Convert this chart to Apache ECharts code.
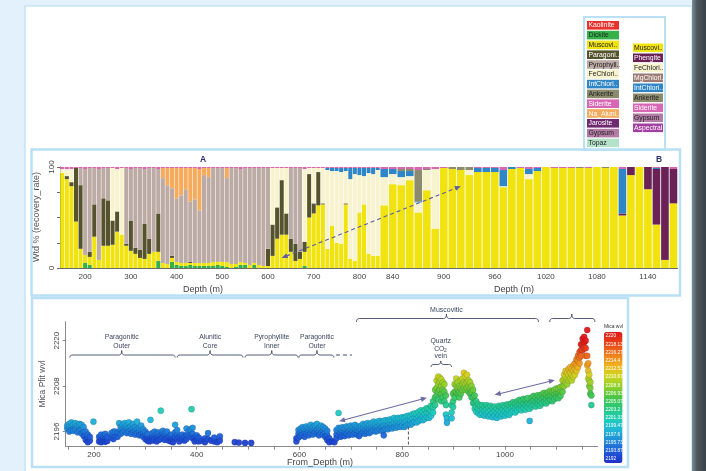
<!DOCTYPE html>
<html>
<head>
<meta charset="utf-8">
<title>Mineralogy and white mica wavelength vs depth</title>
<script src="https://cdn.jsdelivr.net/npm/echarts@6.0.0/dist/echarts.min.js"></script>
<style>
  html, body { margin: 0; padding: 0; background: #e2f1fb; }
  #chart { width: 706px; height: 471px; }
</style>
</head>
<body>
<div id="chart"></div>
<script>
// ---------------- Mineral abundance, 10 m composites (Wtd %) ----------------
const depthsShallow = [150,160,170,180,190,200,210,220,230,240,
  250,260,270,280,290,300,310,320,330,340,
  350,360,370,380,390,400,410,420,430,440,
  450,460,470,480,490,500,510,520,530,540,
  550,560,570,580,590,600,610,620,630,640,
  650,660,670,680,690,700,710,720,730,740,
  750,760,770,780,790,800,810,820,830,840];

const dickiteShallow = [0,0,0,0,0,5,3,0,0,0, 0,0,0,0,0,0,0,0,0,0, 0,7,0,0,6,3,2,2,3,2,
  2,2,2,2,3,2,1,0,1,3, 3,0,3,0,0,0,0,0,0,0, 0,0,0,2,0,0,0,0,0,0, 0,0,0,0,0,0,0,0,0,0];
const muscoviteShallow = [94,88,81,46,19,8,8,31,8,22, 22,23,36,33,22,17,14,10,9,14, 16,9,5,4,4,3,3,3,2,3,
  3,3,3,4,3,4,5,4,3,3, 2,3,2,3,2,2,12,29,33,33, 16,7,9,14,50,54,62,63,19,42, 25,24,63,9,7,55,63,14,12,12];
const paragoniteShallow = [0,3,4,53,63,0,5,32,0,47, 45,24,20,0,2,30,6,8,35,15, 0,38,0,0,2,0,0,0,1,0,
  0,0,0,0,0,0,0,0,0,0, 0,0,0,0,0,17,31,31,54,21, 13,17,7,10,43,10,33,1,0,0, 0,0,1,0,0,0,0,0,0,0];
const pyrophylliteShallow = [0,0,0,0,17,85,83,36,90,30, 32,0,0,0,75,51,79,81,54,70, 83,44,84,78,67,63,67,73,60,63,
  52,87,85,93,93,93,83,95,95,92, 94,96,94,96,97,80,0,0,0,0, 70,75,83,0,0,0,0,0,0,0, 0,0,0,0,0,0,0,0,0,0];
const feChloriteShallow = [4,7,13,0,0,0,0,0,0,0, 0,52,42,66,0,0,0,0,0,0, 0,0,0,0,0,0,0,0,0,0,
  0,0,0,0,0,0,0,0,0,0, 0,0,0,0,0,0,56,39,12,45, 0,0,0,72,6,35,4,35,78,54, 71,71,32,79,86,37,28,80,81,85];
const intChloriteShallow = [0,0,0,0,0,0,0,0,0,0, 0,0,0,0,0,0,0,0,0,0, 0,0,0,0,0,0,0,0,0,0,
  0,0,0,0,0,0,0,0,0,0, 0,0,0,0,0,0,0,0,0,0, 0,0,0,0,0,0,0,0,2,3, 3,4,3,11,6,7,8,5,6,2];
const naAluniteShallow = [0,0,0,0,0,0,0,0,0,0, 0,0,0,0,0,0,0,0,0,0, 0,0,10,17,20,30,27,21,33,31,
  41,7,9,0,0,0,10,0,0,0, 0,0,0,0,0,0,0,0,0,0, 0,0,0,0,0,0,0,0,0,0, 0,0,0,0,0,0,0,0,0,0];
const sideriteShallow = [2,2,2,1,1,2,1,1,2,1, 1,1,2,1,1,2,1,1,2,1, 1,2,1,1,1,1,1,1,1,1,
  2,1,1,1,1,1,1,1,1,2, 1,1,1,1,1,1,1,1,1,1, 1,1,1,2,1,1,1,1,1,1, 1,1,1,1,1,1,1,1,1,1];

const depthsDeep = [830,840,850,860,870,880,890,900,910,920,
  930,940,950,960,970,980,990,1000,1010,1020,
  1030,1040,1050,1060,1070,1080,1090,1100,1110,1120,
  1130,1140,1150,1160,1170];
const muscoviteDeep = [62,83,82,87,55,77,39,99,98,97, 92,95,95,95,80,98,99,88,96,100, 99,99,99,99,99,100,99,100,52,92, 100,78,43,8,64];
const phengiteDeep = [0,0,0,0,0,0,0,0,0,0, 0,0,0,0,0,0,0,0,0,0, 0,0,0,0,0,0,0,0,2,8, 0,22,55,92,34];
const feChloriteDeep = [28,10,8,4,10,20,59,0,0,0, 5,0,0,0,1,0,0,5,0,0, 0,0,0,0,0,0,0,0,0,0, 0,0,0,0,0];
const intChloriteDeep = [8,5,6,5,1,0,0,0,0,0, 0,4,4,4,16,2,0,5,3,0, 0,0,0,0,0,0,0,0,44,0, 0,0,1,0,0];
const ankeriteDeep = [0,0,2,2,31,1,0,0,2,3, 3,0,0,0,0,0,0,0,0,0, 0,0,0,1,0,0,1,0,0,0, 0,0,0,0,0];
const sideriteDeep = [2,2,2,2,3,2,2,1,0,0, 0,1,1,1,3,0,1,2,1,0, 1,1,1,0,1,0,0,0,2,0, 0,0,1,0,2];

// ---------------- White mica Pfit wavelength (nm): [depth, readings...] ----------------
const micaWvlRows = [
  [148,2196.8,2197.6],[152,2197.2,2196.0,2198.0],[156,2197.6,2196.4,2198.4],[160,2197.0,2196.2,2197.9],
  [164,2197.4,2196.6,2198.2],[168,2196.8,2195.8,2197.6],[172,2197.2,2196.3,2198.0],[176,2196.6,2195.5,2197.8],
  [180,2196.0,2194.8,2197.2],[184,2195.0,2193.8,2196.0],[188,2194.2,2193.2,2195.2],[192,2193.6,2194.6],
  [199,2198.6],[210,2193.4,2194.6],[214,2194.0,2195.2,2193.2],[218,2193.6,2194.8],[222,2194.2,2195.4,2193.3],
  [226,2193.5,2194.6],[234,2194.4,2195.6],[238,2194.0,2195.2,2196.0],[242,2194.8,2196.0],[246,2195.6,2194.6],
  [249,2198.2],[252,2196.4,2195.4,2197.2],[256,2196.8,2195.8,2197.8],[260,2197.2,2196.2,2198.2],
  [264,2196.6,2195.6,2197.6],[268,2197.0,2196.0,2198.4],[272,2196.4,2195.4,2197.4],[276,2196.8,2195.8,2198.0],
  [280,2196.2,2195.2,2197.2],[284,2196.6,2195.6,2198.6],[288,2196.0,2195.0,2197.0],[292,2196.4,2195.2,2197.6],
  [296,2195.6,2194.6,2196.6],[300,2195.0,2194.0,2196.0],[304,2194.4,2193.6,2195.4],[308,2194.0,2193.4],
  [310,2199.1],[314,2194.6,2193.6,2195.6],[318,2195.0,2194.0,2196.0],[322,2194.4,2193.4,2195.4],
  [326,2194.8,2193.8,2195.8],[330,2201.5,2195.0,2194.0],[334,2195.4,2194.4,2196.2],[338,2194.8,2193.8,2195.6],
  [342,2195.2,2194.2,2196.0],[346,2194.6,2193.6],[350,2194.2,2193.4,2195.2],[354,2194.0,2193.2],
  [358,2197.8,2195.8,2194.6],[362,2195.2,2194.2,2196.4],[366,2194.4,2193.4],[372,2194.0,2195.2],
  [376,2193.6,2194.6],[380,2195.0,2194.0,2196.8],[384,2196.0,2195.0],[388,2196.6,2194.6],[390,2201.9],
  [392,2195.4,2194.2,2197.0],[396,2194.4,2193.4],[400,2193.8,2195.0],[404,2193.4,2194.4],[410,2193.6],
  [416,2194.2,2193.2],[422,2195.6,2194.0],[428,2193.6],[434,2193.4,2194.4],[440,2193.2],[445,2194.7,2193.6],
  [474,2193.2],[482,2193.1],[494,2193.0],[506,2193.0],
  [594,2194.2,2193.4],[598,2195.4,2194.4,2196.4],[602,2195.8,2194.8,2196.8],[606,2196.2,2195.2,2197.2],
  [610,2195.8,2194.6,2196.8],[614,2196.4,2195.4,2197.4],[618,2196.0,2195.0,2197.0],[622,2196.6,2195.6,2197.8],
  [626,2196.2,2195.2,2197.2],[630,2196.8,2195.8,2197.6],[634,2196.4,2195.4,2198.0],[638,2196.0,2195.0,2197.0],
  [642,2196.6,2195.6,2197.6],[646,2196.2,2195.2,2197.2],[650,2195.8,2194.6,2196.8],[654,2195.0,2193.8,2196.2],
  [658,2194.2,2193.2],[664,2193.4],[668,2193.2],
  [672,2195.2,2194.2,2196.4],[676,2196.0,2195.0,2197.0,2200.9],[680,2195.6,2194.6,2196.8],[684,2196.2,2195.0,2197.2],
  [688,2195.8,2194.8,2196.8],[692,2196.4,2195.4,2197.4],[696,2196.0,2195.0,2197.2],[700,2196.6,2195.4,2197.6],
  [704,2196.2,2195.2,2197.2],[708,2196.8,2195.6,2197.8],[712,2196.4,2195.2,2197.4],[716,2196.0,2194.8,2197.0],
  [720,2196.6,2195.4,2197.6],[724,2197.0,2195.8,2198.0],[728,2196.4,2195.4,2197.6],[732,2197.0,2196.0,2198.2],
  [736,2196.6,2195.6,2197.8],[740,2197.2,2196.0,2198.2],[744,2197.6,2196.4,2198.6],[748,2197.0,2196.0,2198.0],
  [752,2197.4,2196.2,2198.6],[756,2197.8,2196.6,2198.8],[760,2197.2,2196.2,2198.4],[764,2197.6,2196.4,2198.8,2195.0],
  [768,2198.0,2196.8,2199.0],[772,2197.6,2196.6,2198.8],[776,2198.2,2197.0,2199.2],[780,2197.8,2196.8,2199.0],
  [784,2198.4,2197.2,2199.6],[788,2198.0,2197.0,2199.2],[792,2198.6,2197.4,2199.6],[796,2198.2,2197.2,2199.4],
  [800,2198.8,2197.6,2199.8],[804,2198.4,2197.2,2199.6],[808,2198.8,2197.6,2200.0],[812,2199.2,2198.0,2200.2],
  [816,2198.8,2197.8,2200.0],[820,2199.4,2198.2,2200.6],[824,2199.8,2198.6,2200.8],[828,2199.4,2198.4,2200.6],
  [832,2200.0,2198.8,2201.2],[836,2200.4,2199.2,2201.6],[840,2200.0,2199.0,2201.2],[844,2200.6,2199.4,2201.8],
  [848,2201.0,2199.8,2202.2],[852,2200.8,2199.6,2202.0],[856,2201.4,2200.2,2202.8],[860,2202.4,2201.0,2204.0],
  [864,2205.0,2203.0,2207.0],[867,2207.5,2205.5,2209.5],[870,2208.5,2206.5,2210.5,2204.5],[873,2209.0,2207.0,2210.2],
  [876,2208.0,2206.0,2209.8,2204.0],[879,2207.0,2205.0,2209.0],[882,2206.5,2204.0,2208.5],[885,2203.0,2200.5,2205.5],
  [887,2199.5,2198.3],
  [896,2201.0,2199.5,2203.0],[899,2204.0,2202.5,2206.0],[902,2206.5,2205.0,2208.5],[905,2208.0,2206.5,2210.0],
  [908,2207.5,2206.0,2209.0],[911,2206.5,2205.0,2208.0],[914,2207.5,2206.0,2209.5],[917,2208.5,2207.0,2210.0],
  [920,2209.0,2207.5,2211.5],[923,2208.5,2207.0,2210.5],[926,2209.0,2207.5,2211.0],[929,2208.0,2206.5,2209.5],
  [932,2207.5,2206.0,2209.0],[935,2206.5,2205.0,2208.0],[938,2205.0,2203.5,2207.0],[941,2203.5,2202.0,2205.5],
  [944,2202.5,2201.2,2204.0],
  [948,2202.0,2200.8,2203.2],[952,2201.6,2200.4,2202.8],[956,2202.0,2200.8,2203.0],[960,2201.4,2200.2,2202.6],
  [964,2201.8,2200.6,2203.0],[968,2201.2,2200.0,2202.4],[972,2201.6,2200.4,2202.8],[976,2201.0,2199.8,2202.2],
  [980,2201.4,2200.2,2202.6],[984,2201.0,2199.6,2202.0],[988,2201.6,2200.4,2202.8],[992,2201.2,2200.0,2202.4],
  [996,2201.8,2200.6,2203.0],[1000,2201.4,2200.2,2202.6],[1004,2202.0,2200.8,2203.2],[1008,2201.6,2200.4,2203.0],
  [1012,2202.2,2201.0,2203.4],[1016,2202.6,2201.4,2203.8],[1020,2202.2,2201.0,2203.4],[1024,2202.8,2201.6,2204.0],
  [1028,2203.2,2202.0,2204.4],[1032,2202.8,2201.6,2204.0],[1036,2203.4,2202.2,2204.6],[1040,2203.0,2201.8,2204.4],
  [1044,2203.6,2202.4,2204.8],[1048,2203.2,2202.0,2198.8],[1052,2203.8,2202.6,2205.0],[1056,2204.2,2203.0,2205.4],
  [1060,2203.8,2202.6,2205.0],[1064,2204.4,2203.2,2205.6],[1068,2204.0,2202.8,2205.2],[1072,2204.6,2203.4,2205.8],
  [1076,2205.0,2203.8,2206.2],[1080,2204.6,2203.4,2205.8],[1084,2205.2,2204.0,2206.4],[1088,2205.6,2204.4,2206.8],
  [1092,2205.2,2204.0,2206.4],[1096,2205.8,2204.6,2207.0],[1100,2206.2,2205.0,2207.4],[1104,2206.0,2204.8,2207.2],
  [1108,2206.6,2205.4,2207.8],
  [1112,2208.0,2206.5,2209.5],[1115,2209.5,2208.0,2211.0],[1118,2210.5,2209.0,2212.0],[1121,2210.0,2208.5,2211.5],
  [1124,2211.0,2209.5,2212.5],[1127,2211.5,2210.0,2213.0],[1130,2211.0,2209.5,2212.5],[1133,2212.0,2210.5,2213.5],
  [1136,2212.5,2211.0,2214.0],[1139,2213.5,2212.0,2215.0],[1142,2214.5,2213.0,2216.0],[1145,2215.5,2214.0,2217.0],
  [1148,2217.5,2216.0,2219.0],[1151,2219.0,2217.5,2220.5],[1154,2219.5,2218.0,2221.0],[1157,2218.0,2216.0,2220.0],
  [1160,2216.0,2213.5,2222.8],[1162,2212.0,2210.0,2214.0],[1164,2209.5,2208.0,2211.0],[1166,2207.5,2206.0,2209.0],
  [1168,2205.5,2203.0]
];

// ---------------- Tick labels ----------------
const shallowDepthLabels = [200,300,400,500,600,700,800];
const deepDepthLabels = [840,900,960,1020,1080,1140];
const pfitDepthLabels = [200,400,600,800,1000];
const pfitWvlLabels = [2196,2208,2220];
const colorbarLabels = ['2220','2218.13','2216.27','2214.4','2212.53','2210.67','2208.8','2206.93',
  '2205.07','2203.2','2201.33','2199.47','2197.6','2195.73','2193.87','2192'];

// ---------------- Styling ----------------
const FONT = '"Liberation Sans", Arial, sans-serif';
const MINERAL_COLORS = {
  Kaolinite: '#e8322b', Dickite: '#35b14a', Muscovite: '#f1e30f', Phengite: '#6a2256',
  Paragonite: '#55532d', Pyrophyllite: '#bcaaa4', FeChlorite: '#f7f3cf', IntChlorite: '#2f86c6',
  Ankerite: '#8d8b6e', Na_Alunite: '#f5ab5c', Siderite: '#d867b3', Jarosite: '#6e2a6e',
  Gypsum: '#b27ca6', Topaz: '#b4e2c8', MgChlorite: '#9b7b72', Aspectral: '#a23ea0'
};

const shallowStack = [
  ['Dickite', dickiteShallow], ['Muscovite', muscoviteShallow], ['Paragonite', paragoniteShallow],
  ['Pyrophyllite', pyrophylliteShallow], ['FeChlorite', feChloriteShallow], ['IntChlorite', intChloriteShallow],
  ['Na_Alunite', naAluniteShallow], ['Siderite', sideriteShallow]
];
const deepStack = [
  ['Muscovite', muscoviteDeep], ['Phengite', phengiteDeep], ['FeChlorite', feChloriteDeep],
  ['IntChlorite', intChloriteDeep], ['Ankerite', ankeriteDeep], ['Siderite', sideriteDeep]
];

function stackSeries(list, grid, width) {
  return list.map(([name, vals]) => ({
    type: 'bar', name, xAxisIndex: grid, yAxisIndex: grid, stack: 'wtd' + grid,
    barWidth: width, silent: true,
    itemStyle: { color: MINERAL_COLORS[name] },
    data: vals
  }));
}

function steps(a, b, s) { const out = []; for (let v = a; v <= b + 1e-9; v += s) out.push(v); return out; }

const scatterPoints = [];
micaWvlRows.forEach(row => { for (let k = 1; k < row.length; k++) scatterPoints.push([row[0], row[k]]); });

const axisLineStyle = { color: '#6a6a6a', width: 1 };
const tickLabel = { fontSize: 8, color: '#444', fontFamily: FONT };
const plain = v => String(v);

const series = [
  ...stackSeries(shallowStack, 0, '88%'),
  ...stackSeries(deepStack, 1, '90%'),
  {
    type: 'scatter', name: 'Mica Pfit wvl', xAxisIndex: 2, yAxisIndex: 2,
    symbolSize: 6.2, silent: true,
    itemStyle: { borderColor: 'rgba(0,0,50,0.22)', borderWidth: 0.6, opacity: 0.95 },
    data: scatterPoints
  }
];
const scatterIndex = series.length - 1;

const chart = echarts.init(document.getElementById('chart'), null, { width: 706, height: 471 });

chart.setOption({
  animation: false,
  backgroundColor: '#e2f1fb',
  grid: [
    { left: 60, top: 167, width: 320, height: 101 },
    { left: 380, top: 167, width: 297.7, height: 101 },
    { left: 65.7, top: 321.7, width: 531.8, height: 125 }
  ],
  xAxis: [
    { type: 'category', gridIndex: 0, data: depthsShallow.map(String), boundaryGap: true,
      axisLine: { lineStyle: axisLineStyle },
      axisTick: { alignWithLabel: true, interval: (i, v) => (+v) % 20 === 0, length: 3, lineStyle: axisLineStyle },
      axisLabel: { interval: (i, v) => shallowDepthLabels.includes(+v), margin: 5, ...tickLabel } },
    { type: 'category', gridIndex: 1, data: depthsDeep.map(String), boundaryGap: true,
      axisLine: { lineStyle: axisLineStyle },
      axisTick: { alignWithLabel: true, interval: (i, v) => (+v) % 20 === 0, length: 3, lineStyle: axisLineStyle },
      axisLabel: { interval: (i, v) => deepDepthLabels.includes(+v), margin: 5, ...tickLabel } },
    { type: 'value', gridIndex: 2, min: 145, max: 1180, splitLine: { show: false },
      axisLine: { lineStyle: { color: '#8a8a8a' } },
      axisTick: { customValues: steps(150, 1150, 50), length: 3, lineStyle: { color: '#8a8a8a' } },
      axisLabel: { customValues: pfitDepthLabels, formatter: plain, margin: 4, ...tickLabel } }
  ],
  yAxis: [
    { type: 'value', gridIndex: 0, min: 0, max: 100, splitLine: { show: false },
      axisLine: { show: true, lineStyle: axisLineStyle },
      axisTick: { show: true, customValues: [0, 25, 50, 75, 100], length: 3, lineStyle: axisLineStyle },
      axisLabel: { customValues: [0, 100], formatter: plain, rotate: 90, margin: 4, ...tickLabel } },
    { type: 'value', gridIndex: 1, min: 0, max: 100, show: false },
    { type: 'value', gridIndex: 2, min: 2192, max: 2225, splitLine: { show: false },
      axisLine: { show: true, lineStyle: { color: '#8a8a8a' } },
      axisTick: { show: true, customValues: pfitWvlLabels, length: 3, lineStyle: { color: '#8a8a8a' } },
      axisLabel: { customValues: pfitWvlLabels, formatter: plain, rotate: 90, margin: 5, ...tickLabel } }
  ],
  visualMap: {
    type: 'continuous', seriesIndex: scatterIndex, dimension: 1,
    min: 2192, max: 2220, calculable: false, show: true,
    left: 604, top: 332, itemWidth: 18.5, itemHeight: 131, padding: 0,
    inRange: { color: ['#2030c8', '#1e58d8', '#1f8ad8', '#1fb6d6', '#20cdb8', '#28c87e', '#48c648',
      '#90d02a', '#d0d41e', '#f0b01c', '#f0781c', '#e8401a', '#e01818'] }
  },
  series
});

// ---------------- Frames, legend and annotations ----------------
const g0 = (d, v) => chart.convertToPixel({ gridIndex: 0 }, [String(d), v]);
const g1 = (d, v) => chart.convertToPixel({ gridIndex: 1 }, [String(d), v]);
const g2 = (d, v) => chart.convertToPixel({ gridIndex: 2 }, [d, v]);

function text(str, x, y, opt = {}) {
  return {
    type: 'text', x, y, rotation: opt.rotation || 0, z: 120, silent: true,
    style: {
      text: str, fill: opt.fill || '#3b4660', font: (opt.weight || 'normal') + ' ' + (opt.size || 7) + 'px ' + FONT,
      align: opt.align || 'center', textAlign: opt.align || 'center',
      verticalAlign: 'middle', textVerticalAlign: 'middle'
    }
  };
}
function frame(x, y, w, h, lw, stroke, fill, z) {
  return { type: 'rect', z: z, silent: true, shape: { x, y, width: w, height: h },
    style: { fill: fill || 'none', stroke, lineWidth: lw } };
}
// curly brace opening downwards, sampled into a polyline
function quad(p0, c, p1, pts) {
  for (let t = 0.2; t <= 1.0001; t += 0.2) {
    const a = (1 - t) * (1 - t), b = 2 * (1 - t) * t, d = t * t;
    pts.push([a * p0[0] + b * c[0] + d * p1[0], a * p0[1] + b * c[1] + d * p1[1]]);
  }
}
function brace(from, to, tipAt, y, tip, drop) {
  const x1 = g2(from, 2200)[0], x2 = g2(to, 2200)[0], xm = g2(tipAt, 2200)[0];
  const r = 3, pts = [[x1, y + drop]];
  quad([x1, y + drop], [x1, y], [x1 + r, y], pts);
  pts.push([xm - r, y]);
  quad([xm - r, y], [xm, y], [xm, y - tip], pts);
  quad([xm, y - tip], [xm, y], [xm + r, y], pts);
  pts.push([x2 - r, y]);
  quad([x2 - r, y], [x2, y], [x2, y + drop], pts);
  return { type: 'polyline', z: 110, silent: true, shape: { points: pts },
    style: { fill: 'none', stroke: '#3f4a66', lineWidth: 0.9 } };
}
function arrow(p, q, color, dashed, heads) {
  const els = [];
  const dx = q[0] - p[0], dy = q[1] - p[1], L = Math.hypot(dx, dy), ux = dx / L, uy = dy / L;
  const len = 6, half = 2.6;
  const head = (tip, sx, sy) => {
    const bx = tip[0] - sx * len, by = tip[1] - sy * len;
    return { type: 'polygon', z: 115, silent: true,
      shape: { points: [tip, [bx - sy * half, by + sx * half], [bx + sy * half, by - sx * half]] },
      style: { fill: color } };
  };
  const a = heads[0] ? [p[0] + ux * len * 0.8, p[1] + uy * len * 0.8] : p;
  const b = heads[1] ? [q[0] - ux * len * 0.8, q[1] - uy * len * 0.8] : q;
  const ls = { stroke: color, lineWidth: 1.1 };
  if (dashed) ls.lineDash = [4, 3];
  els.push({ type: 'line', z: 115, silent: true, shape: { x1: a[0], y1: a[1], x2: b[0], y2: b[1] }, style: ls });
  if (heads[0]) els.push(head(p, -ux, -uy));
  if (heads[1]) els.push(head(q, ux, uy));
  return els;
}

const elements = [];
// page, side strip and panel frames
elements.push(frame(25, 6, 667, 470, 1.5, '#c4e5f7', '#ffffff', -20));
elements.push({ type: 'rect', z: -19, silent: true, shape: { x: 692, y: 0, width: 14, height: 471 },
  style: { fill: new echarts.graphic.LinearGradient(0, 0, 1, 0, [
    { offset: 0, color: '#7f8c95' }, { offset: 0.35, color: '#4d575e' }, { offset: 1, color: '#3a434a' }]) } });
elements.push(frame(31.5, 149.5, 648.5, 146, 2.5, '#b9e0f5', null, 105));
elements.push(frame(32, 298, 596, 169, 2.5, '#b9e0f5', null, 105));
elements.push(frame(584, 17, 81, 133, 2, '#b9e0f5', null, 105));

// legend swatches
const legendLeft = [
  ['Kaolinite', 'Kaolinite', '#fff'], ['Dickite', 'Dickite', '#1c2a1c'], ['Muscovi..', 'Muscovite', '#222'],
  ['Paragoni..', 'Paragonite', '#fff'], ['Pyrophyll..', 'Pyrophyllite', '#222'], ['FeChlori..', 'FeChlorite', '#222'],
  ['IntChlori..', 'IntChlorite', '#fff'], ['Ankerite', 'Ankerite', '#222'], ['Siderite', 'Siderite', '#fff'],
  ['Na_Aluni..', 'Na_Alunite', '#fff'], ['Jarosite', 'Jarosite', '#fff'], ['Gypsum', 'Gypsum', '#222'],
  ['Topaz', 'Topaz', '#222']
];
const legendRight = [
  ['Muscovi..', 'Muscovite', '#222'], ['Phengite', 'Phengite', '#fff'], ['FeChlori..', 'FeChlorite', '#222'],
  ['MgChlori..', 'MgChlorite', '#fff'], ['IntChlori..', 'IntChlorite', '#fff'], ['Ankerite', 'Ankerite', '#222'],
  ['Siderite', 'Siderite', '#fff'], ['Gypsum', 'Gypsum', '#222'], ['Aspectral', 'Aspectral', '#fff']
];
legendLeft.forEach(([lbl, key, tc], i) => {
  const y = 21 + 9.8 * i;
  elements.push({ type: 'rect', z: 110, silent: true, shape: { x: 587, y, width: 32, height: 8.6 },
    style: { fill: MINERAL_COLORS[key] } });
  elements.push(text(lbl, 588.5, y + 4.5, { align: 'left', size: 6.8, fill: tc }));
});
legendRight.forEach(([lbl, key, tc], i) => {
  const y = 43.5 + 10 * i;
  elements.push({ type: 'rect', z: 110, silent: true, shape: { x: 633, y, width: 30, height: 8.6 },
    style: { fill: MINERAL_COLORS[key] } });
  elements.push(text(lbl, 634, y + 4.5, { align: 'left', size: 6.8, fill: tc }));
});

// stacked-bar panel texts
elements.push(text('A', 203, 159.5, { size: 8.5, weight: 'bold', fill: '#2b2f6b' }));
elements.push(text('B', 659, 159.5, { size: 8.5, weight: 'bold', fill: '#2b2f6b' }));
elements.push(text('Depth (m)', 203, 289.5, { size: 9, fill: '#444' }));
elements.push(text('Depth (m)', 514, 289.5, { size: 9, fill: '#444' }));
elements.push(text('Wtd % (recovery_rate)', 37, 217, { size: 9, fill: '#555', rotation: Math.PI / 2 }));
// dashed trend arrow across both depth sections
elements.push(...arrow(g0(630, 10), g1(920, 81), '#5b5ea6', true, [true, true]));

// wavelength panel texts
elements.push(text('From_Depth (m)', 320, 462.5, { size: 9, fill: '#444' }));
elements.push(text('Mica Pfit wvl', 42.5, 384, { size: 8.5, fill: '#555', rotation: Math.PI / 2 }));

// alteration zone braces
const zoneBraces = [
  { from: 153, to: 358, tip: 254, lines: ['Paragonitic', 'Outer'] },
  { from: 362, to: 490, tip: 426, lines: ['Alunitic', 'Core'] },
  { from: 494, to: 597, tip: 546, lines: ['Pyrophyllite', 'Inner'] },
  { from: 599, to: 667, tip: 634, lines: ['Paragonitic', 'Outer'] }
];
zoneBraces.forEach(b => {
  elements.push(brace(b.from, b.to, b.tip, 355, 4.5, 2.5));
  const xm = g2(b.tip, 2200)[0];
  elements.push(text(b.lines[0], xm, 337.5, { size: 6.8 }));
  elements.push(text(b.lines[1], xm, 346, { size: 6.8 }));
});
{
  const xa = g2(667, 2200)[0], xb = g2(702, 2200)[0];
  elements.push({ type: 'line', z: 110, silent: true, shape: { x1: xa + 2, y1: 355, x2: xb, y2: 355 },
    style: { stroke: '#3f4a66', lineWidth: 1, lineDash: [4, 3] } });
}
elements.push(brace(711, 1065, 886, 318.5, 4.5, 3.5));
elements.push(text('Muscovitic', g2(886, 2200)[0], 310, { size: 7 }));
elements.push(brace(1087, 1175, 1130, 318.5, 4.5, 3.5));
elements.push(brace(856, 896, 875, 364.5, 3.5, 2.5));
{
  const xq = g2(875, 2200)[0];
  elements.push(text('Quartz', xq, 341.5, { size: 6.8 }));
  elements.push(text('CO', xq - 1.5, 349.3, { size: 6.8 }));
  elements.push(text('2', xq + 4.5, 351, { size: 4.8 }));
  elements.push(text('vein', xq, 356.5, { size: 6.8 }));
}
// trend arrows and the 812 m marker
elements.push(...arrow(g2(677, 2198.7), g2(848, 2204.9), '#6d6ca3', false, [true, true]));
elements.push(...arrow(g2(980, 2205.7), g2(1097, 2209.6), '#6d6ca3', false, [true, true]));
{
  const p = g2(812, 2197.3), q = g2(812, 2192);
  elements.push({ type: 'line', z: 110, silent: true, shape: { x1: p[0], y1: p[1], x2: q[0], y2: q[1] },
    style: { stroke: '#555', lineWidth: 1, lineDash: [3, 2] } });
}

// colour bar caption and class labels
elements.push({ type: 'rect', z: 100, silent: true, shape: { x: 603, y: 322, width: 21, height: 10 },
  style: { fill: '#fff' } });
elements.push(text('Mica wvl', 613.5, 327, { size: 5, fill: '#333' }));
colorbarLabels.forEach((lbl, i) => {
  elements.push(text(lbl, 605.5, 332 + (131 / 16) * (i + 0.5), { size: 4.8, fill: '#ffffff', align: 'left' }));
});

chart.setOption({ graphic: { elements } });
</script>
</body>
</html>
